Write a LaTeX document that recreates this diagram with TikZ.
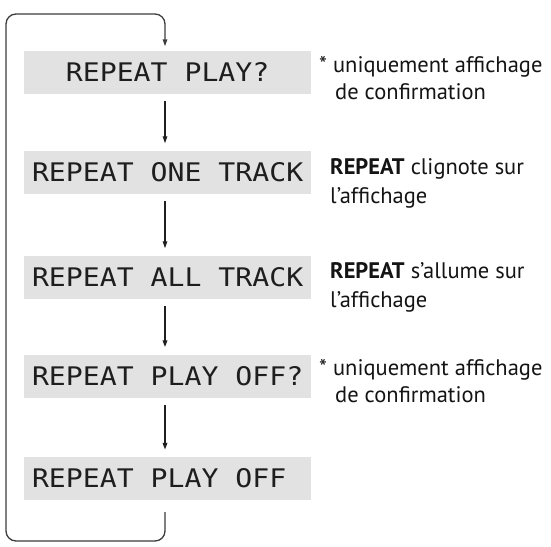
\documentclass[tikz,border=0pt]{standalone}
\usepackage{fontspec}
\setmainfont{PT Sans}
\newfontfamily\lcd[FakeStretch=1.1]{DejaVu Sans Mono}
\usetikzlibrary{arrows.meta}
\definecolor{boxgray}{RGB}{226,226,226}
\definecolor{lcdtext}{RGB}{30,30,30}
\definecolor{linegray}{RGB}{60,60,60}
\newcommand{\lcdline}[1]{\makebox[271pt][l]{#1}}
\begin{document}
\begin{tikzpicture}[x=1pt,y=-1pt,
  dispbox/.style={fill=boxgray,draw=none,minimum width=287pt,minimum height=43pt,inner sep=0pt,
    font=\lcd\fontsize{25.6}{30}\selectfont,text=lcdtext},
  note/.style={anchor=base west,inner sep=0pt,font=\fontsize{22.5}{28}\selectfont,text=black!92},
  flow/.style={draw=black!88,line width=1.2pt,-{Triangle[length=7pt,width=4.5pt]},shorten <=7.5pt,shorten >=7pt},
  flowthick/.style={flow,line width=1.9pt},
  loopline/.style={draw=linegray,line width=1.3pt,rounded corners=10pt,-{Triangle[length=7pt,width=4.5pt]}}]
\useasboundingbox (0,0) rectangle (551,546);
\node[dispbox] (b1) at (167.5,72) {\lcdline{\hphantom{RE}REPEAT PLAY?}};
\node[dispbox] (b2) at (167.5,172) {\lcdline{REPEAT ONE TRACK}};
\node[dispbox] (b3) at (167.5,277) {\lcdline{REPEAT ALL TRACK}};
\node[dispbox] (b4) at (167.5,376) {\lcdline{REPEAT PLAY OFF?}};
\node[dispbox] (b5) at (167.5,478.5) {\lcdline{REPEAT PLAY OFF}};
% annotations
\node[note] (n1a) at (319,72) {* uniquement affichage};
\node[note] (n1b) at (335,99) {de confirmation};
\node[note] (n2a) at (330,174) {\textbf{REPEAT} clignote sur};
\node[note] (n2b) at (330,203) {l’affichage};
\node[note] (n3a) at (330,278) {\textbf{REPEAT} s’allume sur};
\node[note] (n3b) at (330,307) {l’affichage};
\node[note] (n4a) at (319,375) {* uniquement affichage};
\node[note] (n4b) at (335,402) {de confirmation};
% arrows
\draw[flow] ([xshift=-2.5pt]b1.south) -- ([xshift=-2.5pt]b2.north);
\draw[flow] ([xshift=-2.5pt]b2.south) -- ([xshift=-2.5pt]b3.north);
\draw[flowthick] ([xshift=-2.5pt]b3.south) -- ([xshift=-2.5pt]b4.north);
\draw[flowthick] ([xshift=-2.5pt]b4.south) -- ([xshift=-2.5pt]b5.north);
% loop back
\coordinate (lb) at (6,541);
\coordinate (lt) at (6,14);
\draw[loopline] ([xshift=-2.5pt,yshift=-12pt]b5.south) |- (lb) -- (lt) -| ([xshift=-2.5pt,yshift=4pt]b1.north);
\end{tikzpicture}
\end{document}
